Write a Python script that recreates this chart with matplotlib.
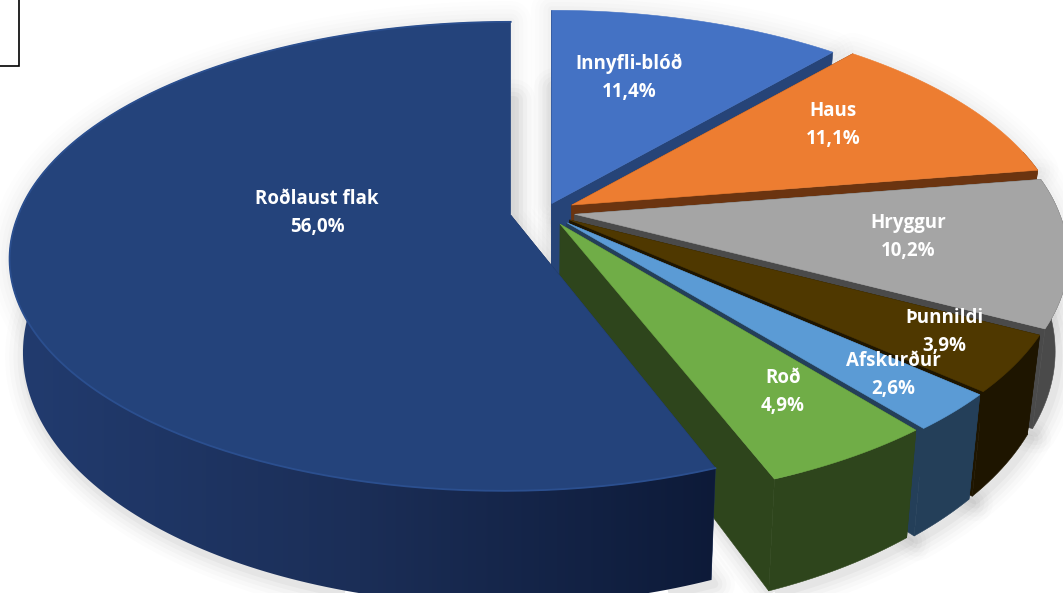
import numpy as np
import matplotlib
matplotlib.use("Agg")
import matplotlib.pyplot as plt
from matplotlib.colors import LinearSegmentedColormap
from matplotlib.patches import Polygon, Rectangle

# Hlutfall af heildarþyngd, réttsælis frá kl. 12
names = ["Innyfli-blóð", "Haus", "Hryggur", "Þunnildi", "Afskurður", "Roð", "Roðlaust flak"]
values = [11.4, 11.1, 10.2, 3.9, 2.6, 4.9, 56.0]

top_colors = ["#4472C4", "#ED7D31", "#A5A5A5", "#4F3800", "#5B9BD5", "#70AD47", "#24437B"]
wall_colors = ["#264478", "#6B3410", "#4A4A4A", "#1E1500", "#243F59", "#2E451C", "#1C2F58"]
explode = [0.04, 0.063, 0.062, 0.062, 0.065, 0.062, 0.072]
label_pos = [(629, 64), (833, 111), (908, 223), (944, 318), (893, 361), (783, 378), (317, 199)]

# camera settings for the tilted pie
cx, cy = 545, 212
rx, ry = 485, 227
persp = 0.175
height = 90
height_persp = 0.21
converge = 0.025
left_stretch = 1.015


def project(x, y, ox=0.0, oy=0.0, z=0.0):
    w = 1 + persp * y
    # the explode offset only grows with nearness on the front half
    ws = 1 + persp * np.minimum(y, 0)
    sx = cx + (rx * x / w + rx * ox / ws) * (1 + converge * z)
    sy = cy - ry * y / w - ry * oy / ws - height * z / (1 + height_persp * y)
    return np.column_stack([sx, sy])


def add_poly(ax, pts, color, z=2):
    p = Polygon(pts, closed=True, facecolor=color, edgecolor=color, linewidth=0.4, zorder=z)
    ax.add_patch(p)
    return p


fig = plt.figure(figsize=(10.63, 5.93), dpi=100)
ax = fig.add_axes([0, 0, 1, 1])

edges = np.concatenate([[0], np.cumsum(values)]) / sum(values) * 2 * np.pi

slices = []
for i in range(len(values)):
    a0, a1 = edges[i], edges[i + 1]
    mid = (a0 + a1) / 2
    t = np.linspace(a0, a1, max(int((a1 - a0) * 60), 12))
    ox = explode[i] * np.sin(mid)
    oy = explode[i] * np.cos(mid)
    xs = np.sin(t)
    slices.append((np.where(xs < 0, xs * left_stretch, xs), np.cos(t), ox, oy))

# soft shadow round the outline of each slice
for lw, alpha in [(30, 0.012), (24, 0.016), (18, 0.02), (12, 0.025), (6, 0.03)]:
    for xs, ys, ox, oy in slices:
        px = np.concatenate([[0], xs])
        py = np.concatenate([[0], ys])
        low = project(px, py, ox, oy, -1.0) + [3, 4]
        ax.add_patch(Polygon(low, closed=True, fill=False, edgecolor="black", alpha=alpha,
                             linewidth=lw, joinstyle="round", zorder=1))
        top = project(px, py, ox, oy, 0.0)
        ax.add_patch(Polygon(top, closed=True, fill=False, edgecolor="black", alpha=alpha * 0.5,
                             linewidth=lw, joinstyle="round", zorder=1))

big_wall = LinearSegmentedColormap.from_list("big_wall", ["#223C70", "#1B2E57", "#0D1A38"])

# back to front, the big slice last
for i, (xs, ys, ox, oy) in enumerate(slices):
    z = 2 + i
    wall = wall_colors[i]
    is_big = names[i] == "Roðlaust flak"
    apex_t = project(np.array([0.0]), np.array([0.0]), ox, oy, 0.0)
    apex_b = project(np.array([0.0]), np.array([0.0]), ox, oy, -1.0)
    rim_t = project(xs, ys, ox, oy, 0.0)
    rim_b = project(xs, ys, ox, oy, -1.0)

    # straight cut faces; the big slice's rear one faces away from the camera
    add_poly(ax, np.vstack([apex_t, rim_t[0], rim_b[0], apex_b]), wall, z)
    if not is_big:
        add_poly(ax, np.vstack([apex_t, rim_t[-1], rim_b[-1], apex_b]), wall, z)

    # curved outer face, only the part that faces the camera
    front = ys < 0.25
    if front.sum() > 1:
        outer = np.vstack([rim_t[front], rim_b[front][::-1]])
        if is_big:
            # the big slice darkens towards the right
            clip = Polygon(outer, closed=True, facecolor="none", edgecolor="none", zorder=z)
            ax.add_patch(clip)
            grad = np.linspace(0, 1, 256).reshape(1, -1)
            im = ax.imshow(grad, cmap=big_wall, extent=(0, 720, 593, 0), aspect="auto",
                           interpolation="bilinear", zorder=z)
            im.set_clip_path(clip)
        else:
            add_poly(ax, outer, wall, z)

    add_poly(ax, np.vstack([apex_t, rim_t]), top_colors[i], z)

    if is_big:
        ax.plot(rim_t[:, 0], rim_t[:, 1], color="#2B4F8F", lw=1.3, zorder=z)

# labels
for name, v, (lx, ly) in zip(names, values, label_pos):
    pct = f"{v:.1f}%".replace(".", ",")
    ax.text(lx, ly, name, color="white", fontsize=13.5, fontweight="bold", family="Open Sans",
            ha="center", va="center", zorder=20)
    ax.text(lx, ly + 28, pct, color="white", fontsize=13.5, fontweight="bold", family="Open Sans",
            ha="center", va="center", zorder=20)

# corner of the frame behind the chart
ax.add_patch(Rectangle((-5, -5), 24, 71, fill=False, edgecolor="black", linewidth=1.2, zorder=21))

ax.set_xlim(0, 1063)
ax.set_ylim(593, 0)
ax.axis("off")

fig.savefig("out.png", dpi=100)
